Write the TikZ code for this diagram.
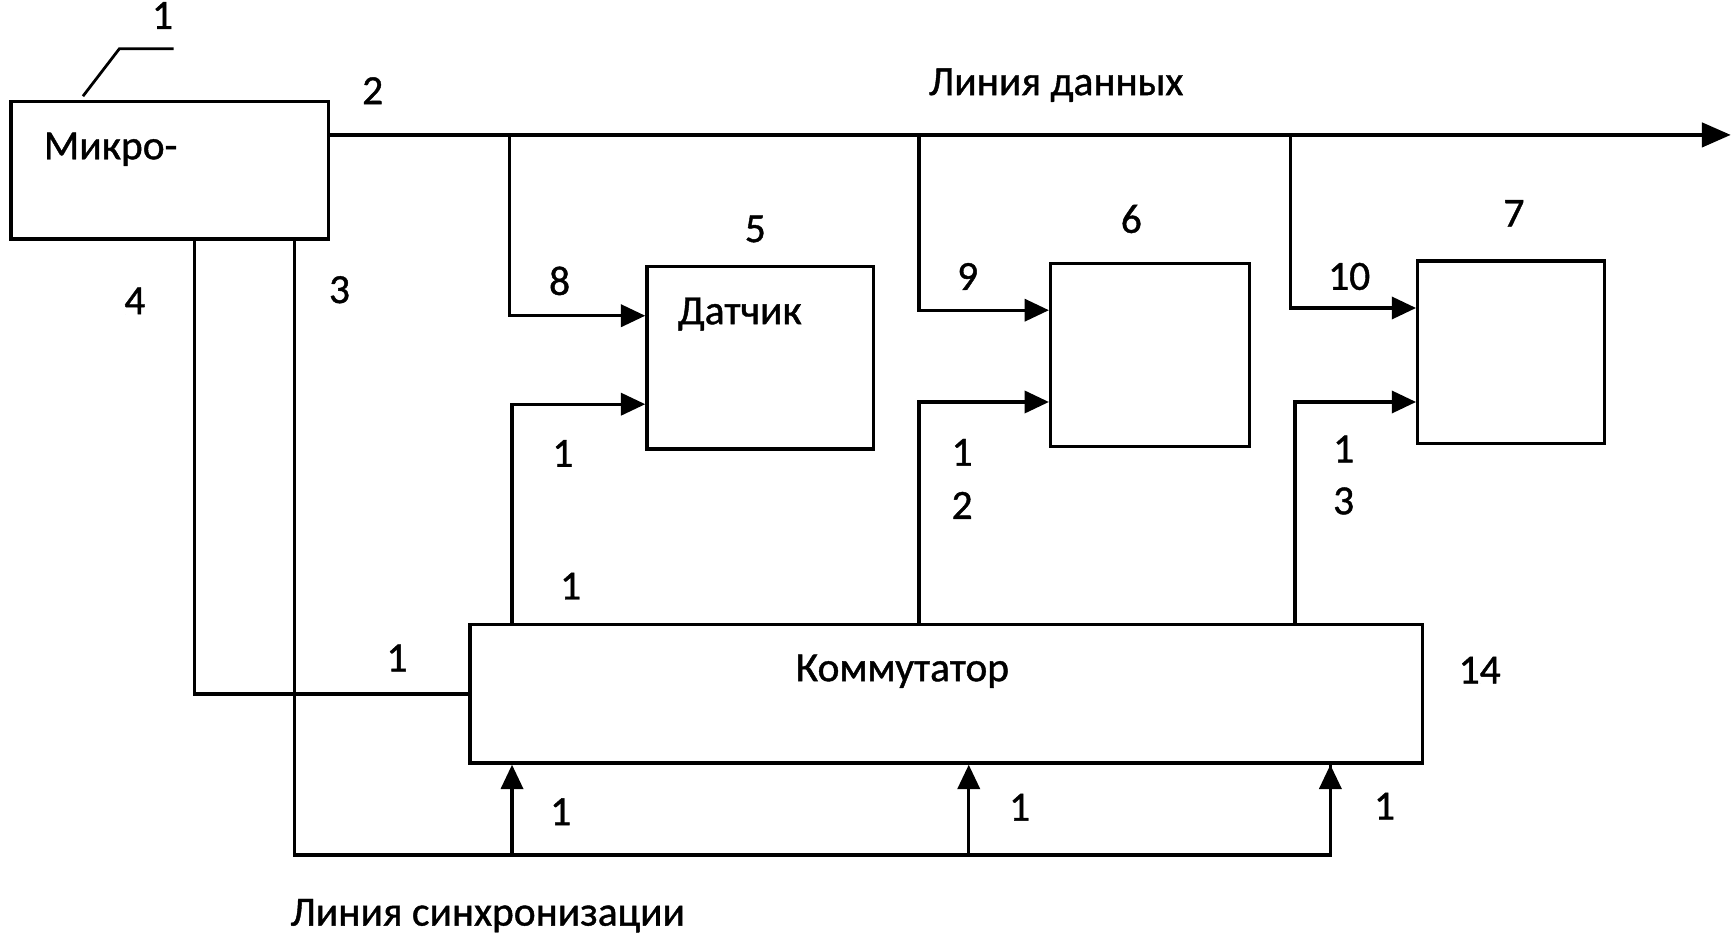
\documentclass[tikz,border=0pt]{standalone}
\usepackage{fontspec}
\setmainfont{Carlito}
\newfontfamily\lblfont[FakeBold=1]{Carlito}
\usetikzlibrary{arrows.meta,calc}
\begin{document}
\begin{tikzpicture}[x=1pt,y=-1pt,
  wire/.style={line width=3pt},
  arr/.style={wire,-{Triangle[length=22pt,width=20pt]}},
  blk/.style={draw,line width=3pt,rectangle,inner sep=0pt},
  lbl/.style={font=\lblfont\fontsize{37.5}{40}\selectfont,inner sep=0pt}]
\useasboundingbox (0,0) rectangle (1568,852.5);
% blocks
\node[blk,minimum width=287pt,minimum height=124pt] (micro) at (153.5,154) {};
\node[blk,minimum width=205pt,minimum height=165pt] (dat) at (687.5,323.5) {};
\node[blk,minimum width=180pt,minimum height=166pt] (b6) at (1040,321) {};
\node[blk,minimum width=169pt,minimum height=165pt] (b7) at (1366.5,318.5) {};
\node[blk,minimum width=861pt,minimum height=125pt] (komm) at (855.5,627.5) {};
% block texts
\node[lbl] (microtxt) at (100,135) {Микро-};
\node[lbl] (dattxt) at (669,284) {Датчик};
\node[lbl] (kommtxt) at (816,607) {Коммутатор};
% leader of 1
\coordinate (ld0) at (75,87);
\coordinate (ld1) at (108,44);
\coordinate (ld2) at (157,44);
\draw[line width=2.5pt] (ld0) -- (ld1) -- (ld2);
% data bus
\coordinate (busS) at (297,122);
\coordinate (busE) at (1565,122);
\draw[wire,-{Triangle[length=26pt,width=22pt]}] (busS) -- (busE);
\coordinate (t8) at (461,122);
\coordinate (t9) at (831,122);
\coordinate (t10) at (1167,122);
\draw[arr] (t8) |- ($(dat.north west)+(0,46)$);
\draw[arr] (t9) |- ($(b6.north west)+(0,44)$);
\draw[arr] (t10) |- ($(b7.north west)+(0,44)$);
% commutator outputs
\draw[arr] (463,0 |- komm.north) |- ($(dat.north west)+(0,126)$);
\draw[arr] (831,0 |- komm.north) |- ($(b6.north west)+(0,127)$);
\draw[arr] (1171,0 |- komm.north) |- ($(b7.north west)+(0,129)$);
% line 4
\draw[wire] (176,0 |- micro.south) |- (komm.west);
% line 3 (sync)
\coordinate (s0) at (266,773);
\coordinate (sa) at (463,773);
\coordinate (sb) at (876,773);
\draw[wire] (266,0 |- micro.south) -- (s0) -| (1203,0 |- komm.south);
\draw[arr] (1203,760) -- (1203,0 |- komm.south);
\draw[arr] (sa) -- (463,0 |- komm.south);
\draw[arr] (sb) -- (876,0 |- komm.south);
% labels
\node[lbl] (n1) at (147,14) {1};
\node[lbl] (n2) at (337,82) {2};
\node[lbl] (n3) at (307,262) {3};
\node[lbl] (n4) at (122,272) {4};
\node[lbl] (n5) at (683,207) {5};
\node[lbl] (n6) at (1023,198) {6};
\node[lbl] (n7) at (1369,193) {7};
\node[lbl] (n8) at (506,254) {8};
\node[lbl] (n9) at (875,250) {9};
\node[lbl] (n10) at (1220,250) {10};
\node[lbl] (n11a) at (509,410) {1};
\node[lbl] (n11b) at (516,530) {1};
\node[lbl] (n12a) at (870,409) {1};
\node[lbl] (n12b) at (870,457) {2};
\node[lbl] (n13a) at (1215,406) {1};
\node[lbl] (n13b) at (1215,453) {3};
\node[lbl] (n14) at (1338,606) {14};
\node[lbl] (n1c) at (359,595) {1};
\node[lbl] (n1d) at (507,734) {1};
\node[lbl] (n1e) at (922,730) {1};
\node[lbl] (n1f) at (1252,729) {1};
\node[lbl] (datal) at (955,77) {Линия данных};
\node[lbl] (syncl) at (441,828) {Линия синхронизации};
\end{tikzpicture}
\end{document}
